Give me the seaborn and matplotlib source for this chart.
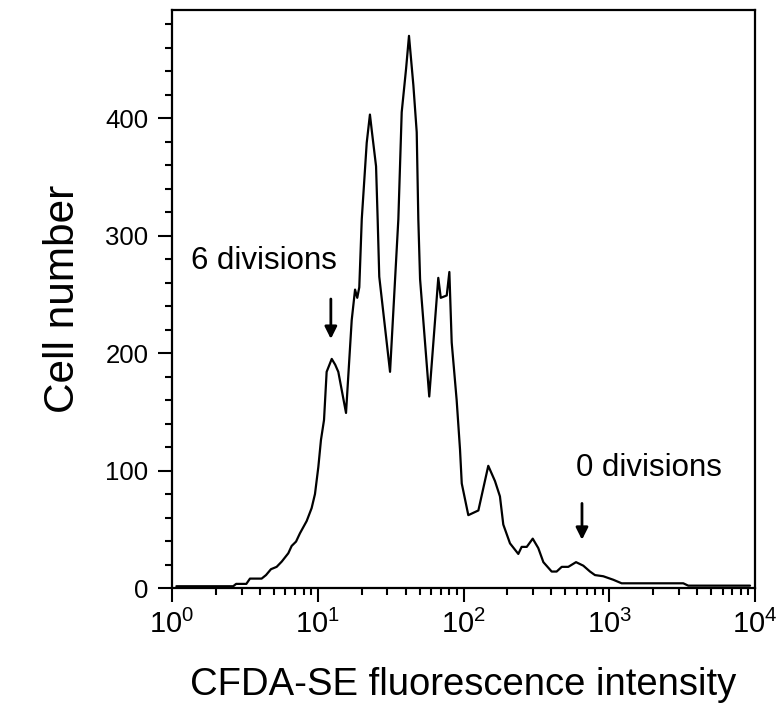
#%%
# CFSE dilution histogram, cell number vs CFDA-SE intensity (log axis)
import numpy as np
import pandas as pd
import matplotlib
matplotlib.use('Agg')
import matplotlib.pyplot as plt
from matplotlib.ticker import LogLocator, MultipleLocator, FixedLocator, NullFormatter
import seaborn as sns

sns.set_style('ticks')
plt.rcParams.update({'font.family': ['Liberation Sans', 'DejaVu Sans'],
                     'mathtext.default': 'regular',
                     'axes.linewidth': 1.5, 'axes.edgecolor': 'black',
                     'text.color': 'black', 'axes.labelcolor': 'black',
                     'xtick.color': 'black', 'ytick.color': 'black',
                     'xtick.direction': 'out', 'ytick.direction': 'out'})

#%% data (log10 of intensity, cell count)
log_intensity = [0.03, 0.42, 0.44, 0.51, 0.535, 0.615, 0.645, 0.679, 0.718, 0.753,
                 0.798, 0.821, 0.851, 0.878, 0.924, 0.958, 0.981, 1.004, 1.022, 1.043,
                 1.061, 1.096, 1.12, 1.141, 1.194, 1.233, 1.256, 1.271, 1.285, 1.302,
                 1.336, 1.358, 1.372, 1.400, 1.411, 1.422, 1.496, 1.553, 1.576, 1.606,
                 1.626, 1.656, 1.679, 1.690, 1.702, 1.765, 1.827, 1.844, 1.885, 1.903,
                 1.919, 1.953, 1.976, 1.988, 2.033, 2.102, 2.170, 2.216, 2.250, 2.273,
                 2.319, 2.376, 2.399, 2.434, 2.475, 2.513, 2.548, 2.605, 2.639, 2.674,
                 2.719, 2.772, 2.822, 2.868, 2.902, 2.959, 3.028, 3.085, 3.508, 3.542,
                 3.966]
cell_number = [1.5, 1.5, 3.5, 3.5, 8, 8, 11, 16, 18, 22.5,
               29.6, 35.8, 39.5, 46.6, 57, 68, 80, 103, 126, 143,
               184, 195, 190, 184, 149, 228, 254, 247, 256, 314,
               379, 403, 388, 359, 314, 265, 184, 314, 405, 442,
               470, 428, 388, 314, 263, 163, 264, 247, 249, 269,
               209, 160, 118, 89, 62, 66, 104, 91, 78, 54,
               38, 29, 35, 35, 42, 34, 22, 14, 14, 18,
               18, 22, 19, 14, 11, 10, 7, 4, 4, 2,
               2]

annot_labels = ['6 divisions', '0 divisions']
annot_text_xy = [(4.28, 278), (1860, 102)]
arrow_x = [12.3, 650]
arrow_y = [(246, 212), (72, 41)]

df = pd.DataFrame({'intensity': 10 ** np.array(log_intensity), 'cells': cell_number})

#%% plot
fig = plt.figure(figsize=(7.77, 7.09), dpi=100)
ax = fig.add_axes([172 / 777, 1 - 588 / 709, (755 - 172) / 777, (588 - 10) / 709])

sns.lineplot(data=df, x='intensity', y='cells', color='black', linewidth=1.6,
             estimator=None, sort=False, ax=ax)

ax.set_xscale('log')
ax.set_xlim(1, 1e4)
ax.set_ylim(0, 492)

ax.xaxis.set_major_locator(FixedLocator([1, 10, 100, 1000, 10000]))
ax.set_xticklabels([f'$10^{{{i}}}$' for i in range(5)])
ax.xaxis.set_minor_locator(LogLocator(base=10, subs=np.arange(2, 10)))
ax.xaxis.set_minor_formatter(NullFormatter())
ax.yaxis.set_major_locator(FixedLocator([0, 100, 200, 300, 400]))
ax.yaxis.set_minor_locator(MultipleLocator(20))

ax.tick_params(which='major', length=10, width=1.5, pad=7)
ax.tick_params(axis='y', which='major', labelsize=18.5)
ax.tick_params(axis='x', which='major', labelsize=21, pad=6)
ax.tick_params(which='minor', length=5, width=1.5)
for s in ax.spines.values():
    s.set_linewidth(1.6)

ax.set_xlabel('CFDA-SE fluorescence intensity', fontsize=27.5, labelpad=20)
ax.set_ylabel('Cell number', fontsize=30.5, labelpad=16)

for lab, (tx, ty), xa, (y0, y1) in zip(annot_labels, annot_text_xy, arrow_x, arrow_y):
    ax.text(tx, ty, lab, fontsize=22.5, ha='center', va='center')
    ax.annotate('', xy=(xa, y1), xytext=(xa, y0),
                arrowprops=dict(arrowstyle='-|>', color='black', lw=2,
                                mutation_scale=18, shrinkA=0, shrinkB=0))

fig.savefig('out.png', dpi=100)
